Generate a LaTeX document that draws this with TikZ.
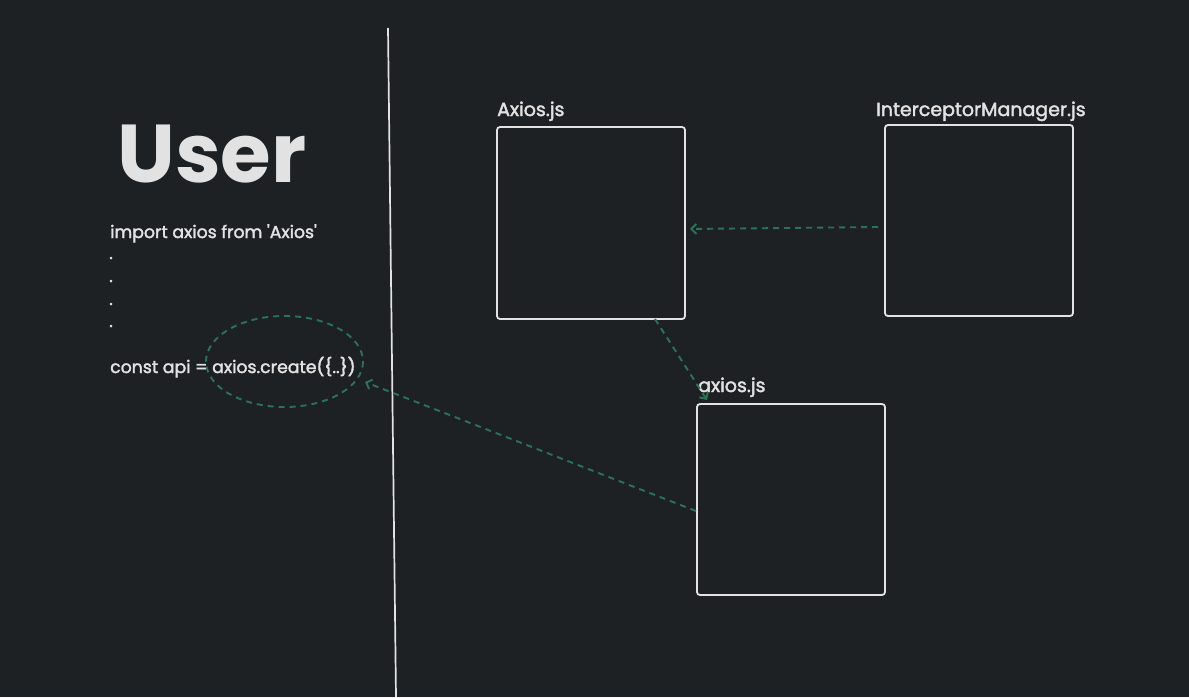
\documentclass[tikz,border=0pt]{standalone}
\usepackage{fontspec}
\setmainfont{Poppins}[Ligatures=TeXOff,FakeBold=2]
\newfontfamily\userfont{Poppins}[Ligatures=TeXOff]
\usetikzlibrary{arrows.meta}
\definecolor{bg}{HTML}{1E2124}
\definecolor{ink}{HTML}{E2E2E2}
\definecolor{grn}{HTML}{2B7256}
\begin{document}
\begin{tikzpicture}[x=1pt,y=-1pt,
  box/.style={draw=ink,line width=1.8pt,rounded corners=3pt},
  lbl/.style={text=ink,font=\fontsize{19}{22}\selectfont,anchor=base west,inner sep=0pt},
  code/.style={text=ink,font=\fontsize{17.3}{20}\selectfont,anchor=base west,inner sep=0pt},
  link/.style={draw=grn,line width=1.9pt,dash pattern=on 6pt off 5pt,-{Straight Barb[length=5pt,width=10pt]}}]
\fill[bg] (0,0) rectangle (1189,697);
\useasboundingbox (0,0) rectangle (1189,697);
% divider
\draw[ink,line width=1.7pt] (388,28) coordinate (d1) -- (396,697) coordinate (d2);
% user side
\node[text=ink,font=\userfont\bfseries\fontsize{82}{90}\selectfont,anchor=base west,inner sep=0pt] (user) at (117,182) {User};
\node[code] (imp) at (110,238) {import axios from 'Axios'};
\node[code] (p1) at (109,259) {.};
\node[code] (p2) at (109,282) {.};
\node[code] (p3) at (109,305) {.};
\node[code] (p4) at (109,327) {.};
\node[code] (cst) at (110,373) {const api = axios.create(\{..\})};
\draw[grn,line width=1.9pt,dash pattern=on 6pt off 5pt] (284.5,361.5) ellipse [x radius=78.5,y radius=45.5];
\coordinate (ell) at (365,382);
% boxes
\draw[box] (497,127) rectangle (685,319);
\coordinate (axB) at (655,319);
\coordinate (axR) at (690,229);
\node[lbl] (axl) at (497,116) {Axios.js};
\draw[box] (885,125) rectangle (1073,316);
\coordinate (imL) at (878,227);
\node[lbl] (iml) at (876,116) {InterceptorManager.js};
\draw[box] (697,404) rectangle (885,595);
\coordinate (axsT) at (707,400);
\coordinate (axsL) at (696,511);
\node[lbl] (axsl) at (698,392) {axios.js};
% links
\draw[link] (imL) -- (axR);
\draw[link] (axB) -- (axsT);
\draw[link] (axsL) -- (ell);
\end{tikzpicture}
\end{document}
